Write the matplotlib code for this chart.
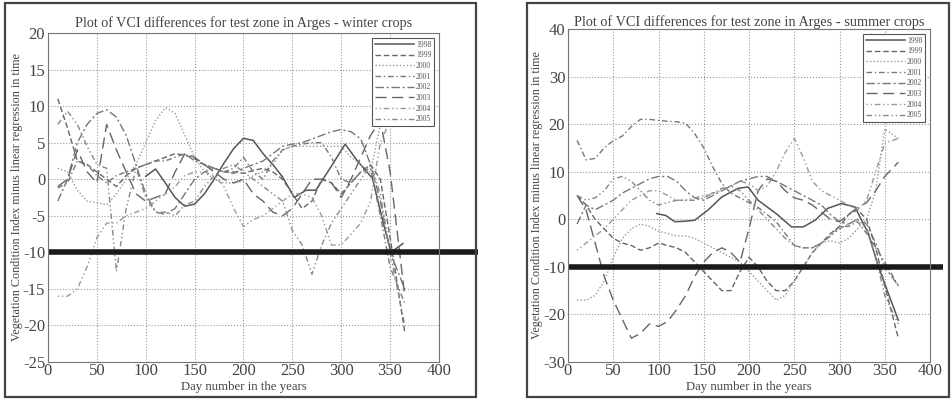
import matplotlib
matplotlib.use("Agg")
import matplotlib.pyplot as plt
from matplotlib.patches import Rectangle

plt.rcParams['font.family'] = ['Liberation Serif', 'DejaVu Serif']
plt.rcParams['axes.unicode_minus'] = False

years = ['1998', '1999', '2000', '2001', '2002', '2003', '2004', '2005']

# ---- winter crops ----
w_days_1998 = [100, 110, 120, 130, 140, 150, 160, 170, 180, 190, 200, 210, 220, 230, 240, 252, 264, 274, 290, 304, 316, 332, 343, 351, 363]
w_vals_1998 = [0.4, 1.4, -0.5, -2.5, -3.7, -3.4, -2.0, 0.0, 2.2, 4.2, 5.6, 5.3, 3.5, 2.0, 0.3, -2.5, -1.5, -1.5, 1.8, 4.8, 2.6, 0.1, -6.0, -10.0, -8.8]

w_days = [10, 20, 30, 40, 50, 60, 70, 80, 90, 100, 110, 120, 130, 140, 150, 160, 170, 180, 190, 200,
          210, 220, 230, 240, 250, 260, 270, 280, 290, 300, 310, 320, 330, 340, 350, 365]
w_vals_1999 = [11, 7, 2.5, 2, 1, 0, -1, 0.5, 1.5, 2, 2.5, 3, 3.5, 3.3, 2.8, 2, 1.5, 1, 1, 0.8,
               1.2, 1.5, 1, 0, -2, -4, -3, 0, -0.5, -2, -0.5, 1, 2, 0, -8, -21]
w_vals_2000 = [1.5, 1, -1.5, -3, -3.2, -3.5, -2, 0, 2, 5, 8, 9.8, 9, 6, 3, 1, 0, -0.5, -0.5, -0.3,
               0.5, 1, 2, 4, 4.5, 4.5, 4.5, 4.5, 4.5, 4.5, 3, 2, 1, 7.5, 8, 8]
w_vals_2001 = [-1.2, -0.5, 2.5, 2, 0.5, -0.5, 0.5, 1, 1.5, 2, 2.5, 2.5, 3, 3.5, 2.5, 2, 1.5, 1, 1.5, 3,
               1, 0, 2.5, 4, 4.5, 4.8, 5, 5, 3, 0, -0.5, 1, 1.5, -5, -12, -17]
w_vals_2002 = [-3, 0, 5, 7.5, 9, 9.5, 8.5, 6, 2, -2, -4.5, -4.8, -4, -2, 0, 1, 1.5, 1, 0.8, 1.5,
               2, 2.5, 3.5, 4.5, 4.8, 5, 5.5, 6, 6.5, 6.8, 6.5, 5.5, 2, -3, -10, -15]
w_vals_2003 = [-1, 0, 4, 1, -0.5, 7.5, 4, 1, -2, -3, -2.5, -2, 1, 3.5, 3, 2, 1, 0, -0.5, 0,
               -2, -3, -4.5, -5, -4, -2, 0, 0, -0.5, -2.5, 0, 3, 6, 8, 1, -16]
w_vals_2004 = [-16, -16, -15, -12, -8, -6, -6, -5, -4.5, -4, -3, -2, -1, 0.5, 1, 1, 0.5, -1, -4, -6.5,
               -5.5, -5, -4, -3, -2, -2, -2.5, -5, -9, -9, -7.5, -6, -3, 5, 8, 8]
w_vals_2005 = [7.5, 9.3, 7.5, 4.5, 2, 1.5, -12.6, -4, 1.5, -2.5, -4.5, -4.5, -5, -3.5, -3, -1, 0.5, 1.5, 2, 1,
               0, -1, -2, -3, -7, -9, -13, -9, -6, -4, -2, 0, 2, -2, -10, -20]

# ---- summer crops ----
s_days_1998 = [98, 108, 118, 130, 140, 155, 170, 188, 199, 210, 230, 247, 260, 273, 287, 302, 317, 332, 343, 354, 365]
s_vals_1998 = [1.2, 0.8, -0.5, -0.4, -0.2, 2.0, 4.7, 6.5, 6.8, 4.0, 1.2, -1.6, -1.6, -0.2, 2.3, 3.3, 2.6, -3.0, -10.0, -15.6, -21.2]

s_days = w_days
s_vals_1999 = [5, 3, 0, -2, -4, -5, -5.5, -6.5, -6, -5, -5.5, -6, -7, -9, -11, -13, -15, -15, -11, -8,
               -10, -13, -15, -15, -13, -10, -7, -5, -3, -1.5, 1, 2, 0, -6, -14, -25]
s_vals_2000 = [-17, -17, -16, -13, -8, -4, -2, -1, -1.5, -2.5, -3, -3.5, -3.5, -4, -5, -6, -7, -8, -9, -11,
               -13, -15, -17, -16, -13, -10, -7, -5, -4.5, -5, -4, -2, 0, 6, 19, 17]
s_vals_2001 = [16.6, 12.5, 12.8, 15, 16.5, 17.5, 19.5, 21, 21, 20.8, 20.6, 20.5, 20.2, 18, 15, 11, 7.5, 5.5, 4.5, 3.5,
               2.5, 1, -0.5, -3, -5.5, -6, -6, -5, -3.5, -1.5, -1.5, -0.5, -3, -6, -9, -14]
s_vals_2002 = [-1, 3, 2, 3, 4, 5.5, 6.5, 7.5, 8.5, 9, 9, 8, 6, 4.5, 4, 5, 6, 7, 8, 8.5,
               9, 9, 8, 7, 6, 5, 4, 3, 1, -0.5, -1, 0, -1, -5, -10, -14]
s_vals_2003 = [5, 2, -5, -12, -17, -21, -25, -24, -22, -22.5, -21.5, -19, -16, -12, -9, -7, -6, -7, -9, -2,
               6, 8.5, 8, 6, 4.5, 4, 3, 1.5, 0, -0.5, 1, 2.5, 3.5, 6, 9, 12]
s_vals_2004 = [-6.5, -5, -3.5, -2, 0, 2, 4, 5, 6, 6, 5, 4, 4, 4.5, 5, 5.5, 6, 7, 8, 7.5,
               6, 7, 10, 14, 17, 13, 8, 6, 5, 4, 3, 2, 4, 10, 16, 17]
s_vals_2005 = [5, 4, 4.5, 6, 8.5, 9, 8, 6, 4, 3, 3.5, 4, 4, 4, 4.5, 5.5, 6.5, 7, 6, 4,
               2, 0, -2, -4, -5.5, -6, -6, -5, -3.5, -2, -1, 0, -2, -8, -16, -22]

styles = ['-', (0, (4, 2)), (0, (1, 1.5)), (0, (4, 2, 1, 2)), (0, (6, 2, 1.5, 2)),
          (0, (8, 4)), (0, (1, 2, 1, 2, 4, 2)), (0, (4, 2, 1, 2, 1, 2))]
colors = ['#555555', '#666666', '#999999', '#777777', '#777777', '#666666', '#999999', '#888888']

fig = plt.figure(figsize=(9.53, 4.0), dpi=100)

# outer boxes round each panel
fig.patches.append(Rectangle((5 / 953, 3 / 400), 471 / 953, 394 / 400, transform=fig.transFigure,
                             fill=False, edgecolor='#444444', linewidth=1.6))
fig.patches.append(Rectangle((527 / 953, 3 / 400), 422 / 953, 394 / 400, transform=fig.transFigure,
                             fill=False, edgecolor='#444444', linewidth=1.6))


def draw_panel(ax, title, title_size, title_pad, days_98, vals_98, days, series, ylim, yticks, line_end):
    ax.plot(days_98, vals_98, linestyle=styles[0], color=colors[0], linewidth=1.1, label=years[0])
    for i, vals in enumerate(series):
        ax.plot(days, vals, linestyle=styles[i + 1], color=colors[i + 1], linewidth=1.0, label=years[i + 1])
    ax.plot([0, line_end], [-10, -10], color='#1a1a1a', linewidth=4, clip_on=False, solid_capstyle='butt')
    ax.set_xlim(0, 400)
    ax.set_ylim(*ylim)
    ax.set_xticks([0, 50, 100, 150, 200, 250, 300, 350, 400])
    ax.set_yticks(yticks)
    ax.grid(True, linestyle=':', color='#999999', linewidth=0.8)
    ax.tick_params(axis='x', labelsize=12, length=0, pad=1, colors='#444444')
    ax.tick_params(axis='y', labelsize=12, length=0, pad=2, colors='#444444')
    for s in ax.spines.values():
        s.set_color('#777777')
        s.set_linewidth(0.8)
    ax.set_title(title, fontsize=title_size, color='#444444', pad=title_pad)
    ax.set_xlabel('Day number in the years', fontsize=9.2, color='#444444', labelpad=1)
    ax.set_ylabel('Vegetation Condition Index minus linear regression in time', fontsize=8.7,
                  color='#444444', labelpad=0)
    leg = ax.legend(loc='upper right', fontsize=5.5, handlelength=5, labelspacing=0.35,
                    borderpad=0.4, handletextpad=0.3, fancybox=False, framealpha=1,
                    edgecolor='#555555', borderaxespad=0.6)
    leg.get_frame().set_linewidth(0.8)
    for t in leg.get_texts():
        t.set_color('#555555')


ax1 = fig.add_axes([48 / 953, 38 / 400, 391 / 953, 329 / 400])
draw_panel(ax1, 'Plot of VCI differences for test zone in Arges - winter crops', 10.2, 4,
           w_days_1998, w_vals_1998, w_days,
           [w_vals_1999, w_vals_2000, w_vals_2001, w_vals_2002, w_vals_2003, w_vals_2004, w_vals_2005],
           (-25, 20), [-25, -20, -15, -10, -5, 0, 5, 10, 15, 20], 440)

ax2 = fig.add_axes([568 / 953, 38 / 400, 362 / 953, 333 / 400])
draw_panel(ax2, 'Plot of VCI differences for test zone in Arges - summer crops', 10.3, 1,
           s_days_1998, s_vals_1998, s_days,
           [s_vals_1999, s_vals_2000, s_vals_2001, s_vals_2002, s_vals_2003, s_vals_2004, s_vals_2005],
           (-30, 40), [-30, -20, -10, 0, 10, 20, 30, 40], 414)

fig.savefig('out.png', dpi=100)
